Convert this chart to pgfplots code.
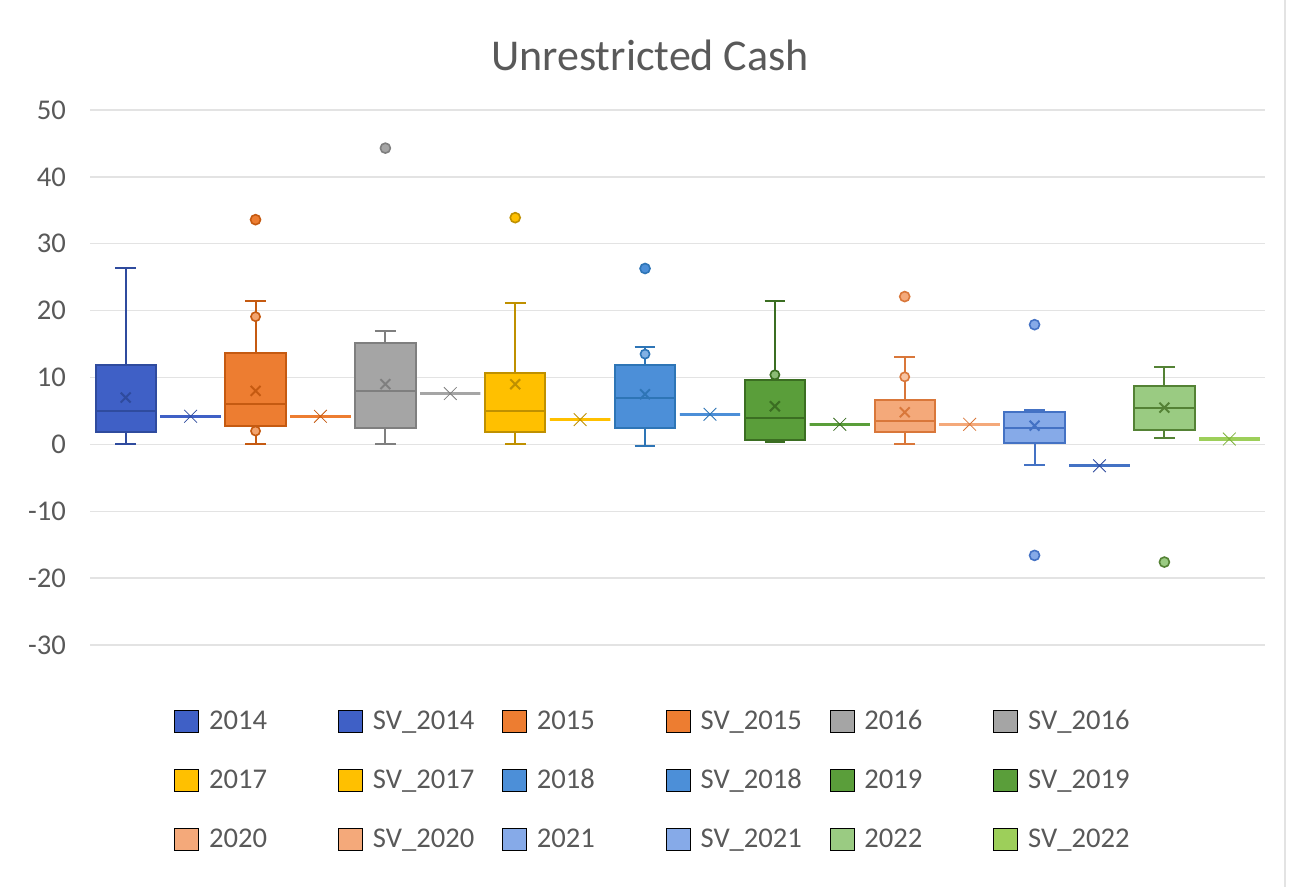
\documentclass[border=0pt]{standalone}
\usepackage{fontspec}
\setmainfont{Carlito}
\usepackage{pgfplots}
\pgfplotsset{compat=1.18}
\usepgfplotslibrary{statistics}

\definecolor{txt}{HTML}{595959}
\definecolor{gridc}{HTML}{E3E3E3}
\definecolor{cA}{HTML}{3F60C6}\definecolor{cAd}{HTML}{2F4B9E}
\definecolor{cB}{HTML}{ED7D31}\definecolor{cBd}{HTML}{C55A11}
\definecolor{cC}{HTML}{A5A5A5}\definecolor{cCd}{HTML}{7F7F7F}
\definecolor{cD}{HTML}{FFC000}\definecolor{cDd}{HTML}{BF9000}
\definecolor{cE}{HTML}{4C8FD8}\definecolor{cEd}{HTML}{2E75B6}
\definecolor{cF}{HTML}{5A9E3A}\definecolor{cFd}{HTML}{3B6E22}
\definecolor{cG}{HTML}{F4A97A}\definecolor{cGd}{HTML}{D9773A}
\definecolor{cH}{HTML}{86AAE8}\definecolor{cHd}{HTML}{4472C4}
\definecolor{cI}{HTML}{9ACB82}\definecolor{cId}{HTML}{548235}
\definecolor{cJ}{HTML}{9DCF5A}\definecolor{cJd}{HTML}{7DB23A}

% year box: #1 colour, #2 dark colour
\pgfplotsset{
  yearbox/.style 2 args={
    forget plot, line width=1pt, color=#2,
    boxplot/draw direction=y,
    boxplot/box extend=0.93, boxplot/whisker extend=0.32,
    boxplot/every box/.style={draw=#2, fill=#1, line width=1pt},
    boxplot/every whisker/.style={draw=#2, line width=1pt},
    boxplot/every median/.style={draw=#2, line width=1pt},
    boxplot/every average/.style={/tikz/mark=x, /tikz/mark size=3.5pt, /tikz/color=#2, /tikz/draw=#2, /tikz/line width=1pt},
    mark=*, mark size=2.5pt, mark options={draw=#2, fill=#1, line width=0.8pt},
  },
  svbox/.style 2 args={
    forget plot, color=#2,
    boxplot/draw direction=y,
    boxplot/box extend=0.93, boxplot/whisker extend=0.3,
    boxplot/every box/.style={draw=#1, line width=1.6pt},
    boxplot/every whisker/.style={draw=#1, line width=1.6pt},
    boxplot/every median/.style={draw=#1, line width=1.6pt},
    boxplot/every average/.style={/tikz/mark=x, /tikz/mark size=4.5pt, /tikz/color=#2, /tikz/draw=#2, /tikz/line width=1.2pt},
    mark=none,
  },
}

\begin{document}
\begin{tikzpicture}[x=1pt,y=1pt]
\path[use as bounding box, fill=white] (0,0) rectangle (646.5,443.5);
\draw[gridc, line width=0.6pt] (642.5,0) -- (642.5,443.5);
\node[text=txt, font=\fontsize{22}{26}\selectfont] at (325,416) {Unrestricted Cash};
\begin{axis}[
  at={(45pt,121pt)}, anchor=south west,
  scale only axis, width=587.5pt, height=267.5pt,
  xmin=0.45, xmax=18.55, ymin=-30, ymax=50,
  ytick={-30,-20,...,50}, xtick=\empty,
  axis line style={draw=none}, major tick style={draw=none},
  ymajorgrids, grid style={draw=gridc, line width=0.7pt},
  /pgf/number format/assume math mode=true,
  yticklabel style={font=\fontsize{14.3}{17}\selectfont, text=txt, xshift=-8.5pt},
  legend columns=6,
  legend cell align=left,
  legend image code/.code={\fill[#1] (0pt,-5.5pt) rectangle (12pt,5.5pt);},
  legend style={at={(0.49,-0.106)}, anchor=north, draw=none, fill=none,
    font=\fontsize{14.3}{17}\selectfont, text=txt, row sep=14.5pt,
    nodes={text width=59.5pt, align=left, inner xsep=5pt},
    /tikz/every even column/.append style={column sep=0pt}},
]
% ---- legend entries
\addlegendimage{fill=cA}\addlegendentry{2014}
\addlegendimage{fill=cA}\addlegendentry{SV\_2014}
\addlegendimage{fill=cB}\addlegendentry{2015}
\addlegendimage{fill=cB}\addlegendentry{SV\_2015}
\addlegendimage{fill=cC}\addlegendentry{2016}
\addlegendimage{fill=cC}\addlegendentry{SV\_2016}
\addlegendimage{fill=cD}\addlegendentry{2017}
\addlegendimage{fill=cD}\addlegendentry{SV\_2017}
\addlegendimage{fill=cE}\addlegendentry{2018}
\addlegendimage{fill=cE}\addlegendentry{SV\_2018}
\addlegendimage{fill=cF}\addlegendentry{2019}
\addlegendimage{fill=cF}\addlegendentry{SV\_2019}
\addlegendimage{fill=cG}\addlegendentry{2020}
\addlegendimage{fill=cG}\addlegendentry{SV\_2020}
\addlegendimage{fill=cH}\addlegendentry{2021}
\addlegendimage{fill=cH}\addlegendentry{SV\_2021}
\addlegendimage{fill=cI}\addlegendentry{2022}
\addlegendimage{fill=cJ}\addlegendentry{SV\_2022}

% ---- 2014
\addplot[yearbox={cA}{cAd}, boxplot prepared={draw position=1,
  lower whisker=0, lower quartile=1.8, median=5.0, upper quartile=11.8, upper whisker=26.3, average=7.0}]
  coordinates {};
\addplot[svbox={cA}{cAd}, boxplot prepared={draw position=2,
  lower whisker=4.2, lower quartile=4.2, median=4.2, upper quartile=4.2, upper whisker=4.2, average=4.2}]
  coordinates {};
% ---- 2015
\addplot[yearbox={cB}{cBd}, boxplot prepared={draw position=3,
  lower whisker=0.1, lower quartile=2.7, median=6.0, upper quartile=13.7, upper whisker=21.5, average=8.0}]
  coordinates {(3,33.6)};
\addplot[svbox={cB}{cBd}, boxplot prepared={draw position=4,
  lower whisker=4.2, lower quartile=4.2, median=4.2, upper quartile=4.2, upper whisker=4.2, average=4.2}]
  coordinates {};
% ---- 2016
\addplot[yearbox={cC}{cCd}, boxplot prepared={draw position=5,
  lower whisker=0, lower quartile=2.4, median=8.0, upper quartile=15.2, upper whisker=17.0, average=9.0}]
  coordinates {(5,44.3)};
\addplot[svbox={cC}{cCd}, boxplot prepared={draw position=6,
  lower whisker=7.6, lower quartile=7.6, median=7.6, upper quartile=7.6, upper whisker=7.6, average=7.6}]
  coordinates {};
% ---- 2017
\addplot[yearbox={cD}{cDd}, boxplot prepared={draw position=7,
  lower whisker=0, lower quartile=1.8, median=5.0, upper quartile=10.7, upper whisker=21.2, average=9.0}]
  coordinates {(7,33.9)};
\addplot[svbox={cD}{cDd}, boxplot prepared={draw position=8,
  lower whisker=3.7, lower quartile=3.7, median=3.7, upper quartile=3.7, upper whisker=3.7, average=3.7}]
  coordinates {};
% ---- 2018
\addplot[yearbox={cE}{cEd}, boxplot prepared={draw position=9,
  lower whisker=-0.3, lower quartile=2.5, median=7.0, upper quartile=11.9, upper whisker=14.5, average=7.5}]
  coordinates {(9,26.3)};
\addplot[svbox={cE}{cEd}, boxplot prepared={draw position=10,
  lower whisker=4.5, lower quartile=4.5, median=4.5, upper quartile=4.5, upper whisker=4.5, average=4.5}]
  coordinates {};
% ---- 2019
\addplot[yearbox={cF}{cFd}, boxplot prepared={draw position=11,
  lower whisker=0.3, lower quartile=0.7, median=4.0, upper quartile=9.6, upper whisker=21.5, average=5.7}]
  coordinates {};
\addplot[svbox={cF}{cFd}, boxplot prepared={draw position=12,
  lower whisker=3.0, lower quartile=3.0, median=3.0, upper quartile=3.0, upper whisker=3.0, average=3.0}]
  coordinates {};
% ---- 2020
\addplot[yearbox={cG}{cGd}, boxplot prepared={draw position=13,
  lower whisker=0, lower quartile=1.8, median=3.5, upper quartile=6.7, upper whisker=13.1, average=4.8}]
  coordinates {(13,22.1)};
\addplot[svbox={cG}{cGd}, boxplot prepared={draw position=14,
  lower whisker=3.0, lower quartile=3.0, median=3.0, upper quartile=3.0, upper whisker=3.0, average=3.0}]
  coordinates {};
% ---- 2021
\addplot[yearbox={cH}{cHd}, boxplot prepared={draw position=15,
  lower whisker=-3.1, lower quartile=0.2, median=2.5, upper quartile=4.9, upper whisker=5.2, average=2.8}]
  coordinates {(15,17.9) (15,-16.6)};
\addplot[svbox={cHd}{cAd}, boxplot prepared={draw position=16,
  lower whisker=-3.2, lower quartile=-3.2, median=-3.2, upper quartile=-3.2, upper whisker=-3.2, average=-3.2}]
  coordinates {};
% ---- 2022
\addplot[yearbox={cI}{cId}, boxplot prepared={draw position=17,
  lower whisker=1.0, lower quartile=2.2, median=5.5, upper quartile=8.7, upper whisker=11.6, average=5.5}]
  coordinates {(17,-17.6)};
\addplot[svbox={cJ}{cJd}, boxplot prepared={draw position=18,
  lower whisker=0.8, lower quartile=0.8, median=0.8, upper quartile=0.8, upper whisker=0.8, average=0.8}]
  coordinates {};

% ---- visible inner points
\addplot[only marks, forget plot, mark=*, mark size=2.3pt, mark options={draw=cBd, fill=cB!70!white, line width=0.8pt}]
  coordinates {(3,19.1) (3,2.0)};
\addplot[only marks, forget plot, mark=*, mark size=2.3pt, mark options={draw=cEd, fill=cE!70!white, line width=0.8pt}]
  coordinates {(9,13.5)};
\addplot[only marks, forget plot, mark=*, mark size=2.3pt, mark options={draw=cFd, fill=cF!70!white, line width=0.8pt}]
  coordinates {(11,10.4)};
\addplot[only marks, forget plot, mark=*, mark size=2.3pt, mark options={draw=cGd, fill=cG!70!white, line width=0.8pt}]
  coordinates {(13,10.1)};
\end{axis}
\end{tikzpicture}
\end{document}
